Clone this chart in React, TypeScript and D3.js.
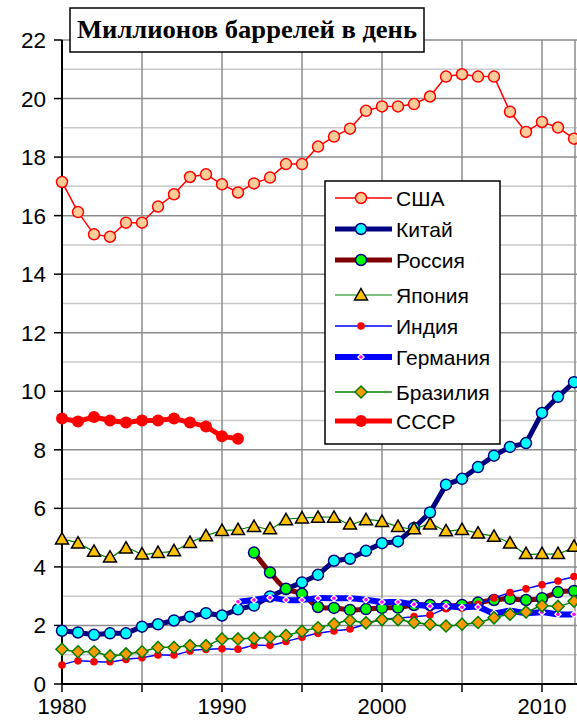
import React from 'react'
import { scaleLinear, line, curveCatmullRom, curveLinear, range } from 'd3'

const years = [1980, 1981, 1982, 1983, 1984, 1985, 1986, 1987, 1988, 1989, 1990, 1991, 1992, 1993, 1994, 1995, 1996,
  1997, 1998, 1999, 2000, 2001, 2002, 2003, 2004, 2005, 2006, 2007, 2008, 2009, 2010, 2011, 2012]

const usa = [17.15, 16.12, 15.36, 15.28, 15.76, 15.76, 16.31, 16.73, 17.32, 17.41, 17.07, 16.79, 17.1, 17.3, 17.76,
  17.76, 18.36, 18.7, 18.97, 19.58, 19.73, 19.73, 19.81, 20.07, 20.75, 20.83, 20.75, 20.75, 19.55, 18.86, 19.2, 19.01, 18.63]
const china = [1.82, 1.76, 1.68, 1.73, 1.73, 1.96, 2.04, 2.17, 2.3, 2.42, 2.34, 2.55, 2.68, 2.99, 3.24, 3.47, 3.73,
  4.21, 4.28, 4.55, 4.81, 4.87, 5.33, 5.86, 6.81, 7.01, 7.41, 7.8, 8.1, 8.23, 9.26, 9.81, 10.31]
const japan = [4.95, 4.81, 4.53, 4.33, 4.64, 4.44, 4.49, 4.55, 4.83, 5.06, 5.24, 5.27, 5.38, 5.3, 5.61, 5.67, 5.69,
  5.69, 5.46, 5.61, 5.55, 5.38, 5.3, 5.46, 5.23, 5.27, 5.15, 5.04, 4.81, 4.45, 4.45, 4.45, 4.7]
const india = [0.65, 0.79, 0.76, 0.76, 0.84, 0.9, 0.99, 0.99, 1.13, 1.18, 1.2, 1.19, 1.32, 1.32, 1.45, 1.6, 1.73,
  1.81, 1.88, 2.05, 2.2, 2.25, 2.3, 2.36, 2.57, 2.6, 2.72, 2.94, 3.12, 3.25, 3.39, 3.52, 3.67]
const brazil = [1.19, 1.1, 1.1, 0.96, 1.03, 1.1, 1.25, 1.25, 1.31, 1.31, 1.54, 1.54, 1.56, 1.6, 1.66, 1.8, 1.92,
  2.05, 2.17, 2.09, 2.2, 2.2, 2.1, 2.04, 1.98, 2.04, 2.1, 2.26, 2.38, 2.46, 2.67, 2.65, 2.83]

// Россия с 1992, Германия с 1991, СССР до 1991
const russiaYears = years.slice(12)
const russia = [4.49, 3.81, 3.25, 3.08, 2.63, 2.6, 2.53, 2.56, 2.6, 2.61, 2.7, 2.7, 2.67, 2.7, 2.78, 2.87, 2.91,
  2.87, 2.93, 3.14, 3.18]
const germanyYears = years.slice(11)
const germany = [2.81, 2.87, 2.95, 2.87, 2.87, 2.93, 2.93, 2.93, 2.88, 2.8, 2.8, 2.72, 2.66, 2.66, 2.62, 2.63,
  2.42, 2.5, 2.42, 2.45, 2.38, 2.38]
const ussrYears = years.slice(0, 12)
const ussr = [9.07, 8.97, 9.12, 9.0, 8.93, 9.0, 9.0, 9.07, 8.93, 8.8, 8.46, 8.38]

const yTicks = [0, 2, 4, 6, 8, 10, 12, 14, 16, 18, 20, 22]
const xLabels = [1980, 1990, 2000, 2010]
const xTicks = [1980, 1985, 1990, 1995, 2000, 2005, 2010]

const title = 'Миллионов баррелей в день'

const W = 577, H = 722
const left = 62, right = 574, top = 40, bottom = 684

const x = scaleLinear().domain([1980, 2012]).range([left, right])
const y = scaleLinear().domain([0, 22]).range([bottom, top])

type Marker = 'circle' | 'tri' | 'diamond' | 'dot' | 'gdiamond'

interface Series {
  name: string
  xs: number[]
  ys: number[]
  color: string
  width: number
  smooth: boolean
  marker: Marker
  fill: string
  stroke: string
  r: number
}

const series: Series[] = [
  { name: 'США', xs: years, ys: usa, color: '#ff0000', width: 1.5, smooth: false, marker: 'circle', fill: '#ffcc99', stroke: '#ff0000', r: 5.5 },
  { name: 'Китай', xs: years, ys: china, color: '#000080', width: 5, smooth: false, marker: 'circle', fill: '#00ffff', stroke: '#000080', r: 5.5 },
  { name: 'Россия', xs: russiaYears, ys: russia, color: '#800000', width: 5, smooth: true, marker: 'circle', fill: '#00ff00', stroke: '#000080', r: 5.5 },
  { name: 'Япония', xs: years, ys: japan, color: '#008000', width: 1.2, smooth: true, marker: 'tri', fill: '#ffc000', stroke: '#000000', r: 6.5 },
  { name: 'Индия', xs: years, ys: india, color: '#0000ff', width: 1.5, smooth: true, marker: 'dot', fill: '#ff0000', stroke: 'none', r: 3.8 },
  { name: 'Германия', xs: germanyYears, ys: germany, color: '#0000ff', width: 6, smooth: true, marker: 'gdiamond', fill: '#ff00ff', stroke: '#ffffff', r: 4 },
  { name: 'Бразилия', xs: years, ys: brazil, color: '#008000', width: 1.5, smooth: true, marker: 'diamond', fill: '#ff9900', stroke: '#008000', r: 6 },
  { name: 'СССР', xs: ussrYears, ys: ussr, color: '#ff0000', width: 5, smooth: false, marker: 'dot', fill: '#ff0000', stroke: 'none', r: 6 },
]

function MarkerShape({ s, cx, cy }: { s: Series; cx: number; cy: number }) {
  const r = s.r
  if (s.marker === 'tri') {
    return <path d={`M${cx},${cy - r} L${cx + r},${cy + r * 0.75} L${cx - r},${cy + r * 0.75}Z`}
      fill={s.fill} stroke={s.stroke} strokeWidth={1.5} strokeLinejoin="miter" />
  }
  if (s.marker === 'diamond') {
    return <path d={`M${cx},${cy - r} L${cx + r},${cy} L${cx},${cy + r} L${cx - r},${cy}Z`}
      fill={s.fill} stroke={s.stroke} strokeWidth={1.5} />
  }
  if (s.marker === 'gdiamond') {
    return <g>
      <path d={`M${cx},${cy - r} L${cx + r},${cy} L${cx},${cy + r} L${cx - r},${cy}Z`} fill="#ffffff" />
      <circle cx={cx} cy={cy} r={1.8} fill={s.fill} />
    </g>
  }
  if (s.marker === 'dot') {
    return <circle cx={cx} cy={cy} r={r} fill={s.fill} />
  }
  return <circle cx={cx} cy={cy} r={r} fill={s.fill} stroke={s.stroke} strokeWidth={1.5} />
}

export default function App() {
  const minor = range(1, 22, 2)
  const legendX = 325, legendY = 181
  const legendRows = [198, 229, 260, 295, 326, 357, 392, 421]

  return (
    <svg width={W} height={H} style={{ position: 'absolute', left: 0, top: 0, background: '#fff' }}
      fontFamily="'Liberation Sans', Arial, sans-serif">
      <rect x={0} y={0} width={W} height={H} fill="#fff" />
      <defs>
        <clipPath id="plot">
          <rect x={left - 8} y={top - 8} width={W - left + 8} height={bottom - top + 16} />
        </clipPath>
      </defs>

      {/* сетка */}
      {minor.map(v => (
        <line key={'m' + v} x1={left} x2={W} y1={y(v)} y2={y(v)} stroke="#c8c8c8" strokeWidth={1.5} />
      ))}
      {yTicks.slice(1).map(v => (
        <line key={'g' + v} x1={left} x2={W} y1={y(v)} y2={y(v)} stroke="#8c8c8c" strokeWidth={1.5} />
      ))}
      {xTicks.slice(1).map(t => (
        <line key={'v' + t} x1={x(t)} x2={x(t)} y1={top} y2={bottom} stroke="#8c8c8c" strokeWidth={1.5} />
      ))}
      <line x1={right + 1} x2={right + 1} y1={top} y2={bottom} stroke="#8c8c8c" strokeWidth={1.5} />

      {/* оси */}
      <line x1={left} x2={left} y1={top} y2={bottom} stroke="#000" strokeWidth={2} />
      <line x1={left} x2={W} y1={bottom} y2={bottom} stroke="#000" strokeWidth={2} />
      {yTicks.map(v => (
        <g key={'yt' + v}>
          <line x1={left - 8} x2={left} y1={y(v)} y2={y(v)} stroke="#000" strokeWidth={1.5} />
          <text x={46} y={y(v) + 8} textAnchor="end" fontSize={22.5}>{v}</text>
        </g>
      ))}
      {xTicks.map(t => (
        <line key={'xt' + t} x1={x(t)} x2={x(t)} y1={bottom} y2={bottom + 8} stroke="#000" strokeWidth={1.5} />
      ))}
      {xLabels.map(t => (
        <text key={'xl' + t} x={x(t)} y={714} textAnchor="middle" fontSize={22}>{t}</text>
      ))}

      {/* ряды */}
      <g clipPath="url(#plot)">
        {series.map(s => {
          const pts = s.xs.map((yr, i) => [x(yr), y(s.ys[i])] as [number, number])
          const gen = line().curve(s.smooth ? curveCatmullRom : curveLinear)
          return (
            <g key={s.name}>
              <path d={gen(pts) || ''} fill="none" stroke={s.color} strokeWidth={s.width} strokeLinejoin="round" />
              {pts.map((p, i) => <MarkerShape key={i} s={s} cx={p[0]} cy={p[1]} />)}
            </g>
          )
        })}
      </g>

      {/* заголовок */}
      <rect x={70} y={8} width={354} height={44} fill="#fff" stroke="#000" strokeWidth={1.5} />
      <text x={77} y={38} fontFamily="'Liberation Serif', 'Times New Roman', serif" fontWeight="bold" fontSize={25}
        textLength={340} lengthAdjust="spacingAndGlyphs">{title}</text>

      {/* легенда */}
      <rect x={legendX} y={legendY} width={175} height={263} fill="#fff" stroke="#000" strokeWidth={1.5} />
      {series.map((s, i) => {
        const ly = legendRows[i]
        return (
          <g key={'lg' + s.name}>
            <line x1={335} x2={392} y1={ly} y2={ly} stroke={s.color} strokeWidth={s.width} />
            <MarkerShape s={s} cx={361} cy={ly} />
            <text x={396} y={ly + 7.5} fontSize={21}>{s.name}</text>
          </g>
        )
      })}
    </svg>
  )
}
